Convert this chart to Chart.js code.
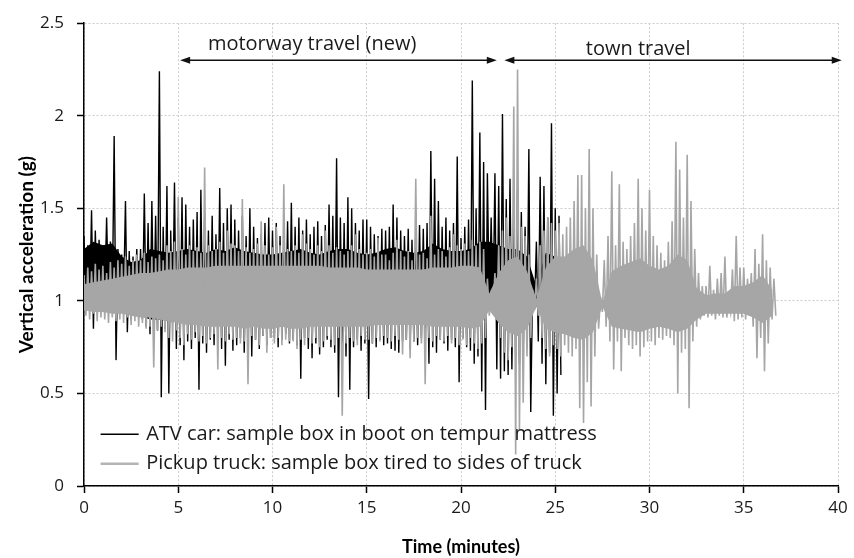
<!DOCTYPE html>
<html>
<head>
<meta charset="utf-8">
<title>Vertical acceleration</title>
<script src="https://cdn.jsdelivr.net/npm/chart.js@4.4.1/dist/chart.umd.min.js"></script>
<style>
  html, body { margin: 0; padding: 0; background: #fff; }
  #wrap { width: 854px; height: 558px; }
</style>
</head>
<body>
<div id="wrap"><canvas id="accelChart" width="854" height="558"></canvas></div>
<script>
// each recording is kept as the max / min reading of every 0.2 minute window
const windowMinutes = 0.2;
// plus the edges of the solid middle band, every 0.5 minute
const bandMinutes = 0.5;

// ATV car, sample box in boot on tempur mattress (g)
const atvHigh = [
  1.35, 1.30, 1.49, 1.38, 1.33,  1.30, 1.45, 1.32, 1.89, 1.28,
  1.25, 1.54, 1.27, 1.24, 1.28,  1.28, 1.58, 1.42, 1.54, 1.46,
  2.24, 1.40, 1.62, 1.38, 1.64,  1.45, 1.56, 1.52, 1.40, 1.44,
  1.48, 1.60, 1.45, 1.38, 1.46,  1.36, 1.61, 1.42, 1.50, 1.52,
  1.44, 1.38, 1.46, 1.35, 1.50,  1.40, 1.34, 1.36, 1.42, 1.45,
  1.38, 1.42, 1.35, 1.33, 1.43,  1.53, 1.40, 1.45, 1.38, 1.44,
  1.36, 1.40, 1.43, 1.35, 1.41,  1.52, 1.46, 1.77, 1.45, 1.42,
  1.56, 1.50, 1.42, 1.38, 1.44,  1.44, 1.40, 1.36, 1.35, 1.39,
  1.38, 1.40, 1.52, 1.45, 1.38,  1.35, 1.39, 1.33, 1.37, 1.41,
  1.39, 1.42, 1.81, 1.66, 1.54,  1.40, 1.45, 1.38, 1.42, 1.78,
  1.34, 1.40, 1.44, 2.19, 1.50,  1.91, 1.75, 1.69, 1.45, 1.69,
  1.62, 2.01, 1.55, 1.66, 1.48,  1.60, 1.48, 1.40, 1.82, 1.10,
  1.32, 1.67, 1.62, 1.45, 1.96,  1.50, 1.46
];
const atvLow = [
  1.00, 0.95, 0.85, 0.98, 1.02,  1.02, 1.00, 0.96, 0.68, 1.03,
  1.00, 0.83, 0.90, 0.98, 0.95,  0.90, 0.86, 0.82, 0.88, 0.84,
  0.48, 0.85, 0.50, 0.88, 0.74,  0.76, 0.68, 0.78, 0.74, 0.80,
  0.52, 0.77, 0.72, 0.79, 0.76,  0.78, 0.74, 0.65, 0.79, 0.73,
  0.76, 0.80, 0.72, 0.78, 0.70,  0.79, 0.74, 0.81, 0.76, 0.80,
  0.80, 0.75, 0.79, 0.82, 0.77,  0.79, 0.76, 0.58, 0.80, 0.74,
  0.69, 0.77, 0.71, 0.75, 0.79,  0.75, 0.72, 0.48, 0.77, 0.70,
  0.52, 0.75, 0.79, 0.73, 0.77,  0.47, 0.77, 0.75, 0.79, 0.76,
  0.77, 0.74, 0.73, 0.72, 0.78,  0.79, 0.74, 0.78, 0.76, 0.80,
  0.77, 0.66, 0.75, 0.72, 0.79,  0.77, 0.73, 0.79, 0.75, 0.56,
  0.80, 0.75, 0.73, 0.66, 0.70,  0.51, 0.41, 0.96, 0.94, 0.63,
  0.58, 0.62, 0.60, 0.63, 0.70,  0.66, 0.72, 0.75, 0.40, 0.96,
  0.78, 0.66, 0.55, 0.72, 0.38,  0.50, 0.60
];
const atvBandTop = [
  1.28, 1.32, 1.30, 1.31, 1.24, 1.21, 1.22, 1.28, 1.27, 1.26,
  1.27, 1.28, 1.27, 1.26, 1.28, 1.27, 1.29, 1.27, 1.26, 1.25,
  1.25, 1.26, 1.27, 1.28, 1.26, 1.25, 1.27, 1.28, 1.28, 1.26,
  1.25, 1.26, 1.28, 1.29, 1.27, 1.26, 1.27, 1.31, 1.28, 1.27,
  1.27, 1.28, 1.32, 1.32, 1.30, 1.28, 1.28, 1.24, 1.08, 1.26,
  1.24, 1.18
];
const atvBandBottom = [
  1.02, 1.03, 1.04, 1.03, 0.98, 0.94, 0.92, 0.90, 0.90, 0.89,
  0.89, 0.89, 0.89, 0.89, 0.89, 0.89, 0.89, 0.89, 0.89, 0.89,
  0.89, 0.89, 0.89, 0.89, 0.89, 0.89, 0.89, 0.89, 0.89, 0.89,
  0.89, 0.89, 0.89, 0.89, 0.89, 0.89, 0.89, 0.89, 0.89, 0.89,
  0.89, 0.89, 0.88, 0.97, 0.88, 0.86, 0.86, 0.88, 0.97, 0.88,
  0.88, 0.88
];

// Pickup truck, sample box tied to sides of truck (g)
const truckHigh = [
  1.14, 1.18, 1.16, 1.20, 1.17,  1.19, 1.15, 1.21, 1.18, 1.22,
  1.20, 1.24, 1.19, 1.22, 1.25,  1.22, 1.26, 1.21, 1.24, 1.23,
  1.25, 1.22, 1.30, 1.27, 1.32,  1.56, 1.28, 1.25, 1.30, 1.27,
  1.29, 1.26, 1.72, 1.30, 1.27,  1.28, 1.32, 1.26, 1.38, 1.31,
  1.30, 1.27, 1.55, 1.29, 1.26,  1.28, 1.31, 1.43, 1.30, 1.25,
  1.29, 1.40, 1.30, 1.63, 1.28,  1.27, 1.30, 1.26, 1.36, 1.31,
  1.28, 1.25, 1.30, 1.27, 1.38,  1.30, 1.26, 1.29, 1.27, 1.25,
  1.27, 1.30, 1.36, 1.28, 1.25,  1.26, 1.28, 1.24, 1.34, 1.25,
  1.25, 1.22, 1.26, 1.33, 1.27,  1.24, 1.27, 1.22, 1.66, 1.25,
  1.26, 1.23, 1.46, 1.25, 1.28,  1.27, 1.24, 1.29, 1.36, 1.30,
  1.28, 1.31, 1.27, 1.33, 1.30,  1.32, 1.28, 1.12, 1.03, 1.15,
  1.30, 1.38, 1.45, 1.35, 2.05,  2.25, 1.40, 1.35, 1.25, 1.06,
  1.12, 1.30, 1.38, 1.45, 1.42,  1.38, 1.42, 1.36, 1.40, 1.45,
  1.54, 1.68, 1.68, 1.50, 1.82,  1.50, 1.25, 1.02, 1.22, 1.35,
  1.70, 1.30, 1.63, 1.32, 1.28,  1.35, 1.42, 1.66, 1.50, 1.38,
  1.60, 1.35, 1.30, 1.26, 1.22,  1.32, 1.43, 1.86, 1.71, 1.45,
  1.79, 1.54, 1.28, 1.15, 1.08,  1.08, 1.19, 1.06, 1.12, 1.15,
  1.24, 1.00, 1.17, 1.35, 1.18,  1.18, 1.12, 1.15, 1.28, 1.20,
  1.36, 1.22, 1.18, 1.12
];
const truckLow = [
  0.92, 0.90, 0.93, 0.89, 0.91,  0.90, 0.88, 0.91, 0.89, 0.90,
  0.88, 0.91, 0.87, 0.89, 0.86,  0.88, 0.85, 0.86, 0.64, 0.84,
  0.86, 0.83, 0.80, 0.78, 0.84,  0.80, 0.76, 0.82, 0.79, 0.83,
  0.78, 0.81, 0.77, 0.80, 0.82,  0.63, 0.80, 0.78, 0.82, 0.79,
  0.80, 0.77, 0.78, 0.55, 0.81,  0.79, 0.76, 0.81, 0.72, 0.80,
  0.77, 0.80, 0.76, 0.79, 0.78,  0.78, 0.74, 0.79, 0.76, 0.80,
  0.77, 0.80, 0.75, 0.78, 0.81,  0.79, 0.76, 0.80, 0.38, 0.77,
  0.80, 0.78, 0.76, 0.81, 0.79,  0.79, 0.77, 0.80, 0.78, 0.81,
  0.80, 0.78, 0.81, 0.79, 0.71,  0.79, 0.69, 0.78, 0.80, 0.77,
  0.55, 0.80, 0.78, 0.81, 0.79,  0.78, 0.81, 0.77, 0.80, 0.76,
  0.79, 0.76, 0.80, 0.77, 0.74,  0.77, 0.80, 0.92, 0.95, 0.90,
  0.80, 0.72, 0.68, 0.75, 0.17,  0.30, 0.45, 0.70, 0.80, 0.95,
  0.92, 0.80, 0.74, 0.70, 0.76,  0.74, 0.70, 0.76, 0.72, 0.70,
  0.74, 0.42, 0.34, 0.56, 0.43,  0.70, 0.85, 0.94, 0.86, 0.78,
  0.63, 0.78, 0.62, 0.80, 0.76,  0.74, 0.76, 0.70, 0.75, 0.78,
  0.78, 0.76, 0.80, 0.79, 0.81,  0.80, 0.76, 0.50, 0.72, 0.74,
  0.42, 0.78, 0.86, 0.90, 0.92,  0.91, 0.92, 0.90, 0.92, 0.91,
  0.91, 0.94, 0.89, 0.90, 0.91,  0.90, 0.92, 0.86, 0.69, 0.80,
  0.62, 0.77, 0.90, 0.92
];
const truckBandTop = [
  1.09, 1.10, 1.11, 1.12, 1.13, 1.14, 1.15, 1.15, 1.16, 1.17,
  1.17, 1.18, 1.18, 1.18, 1.19, 1.19, 1.19, 1.19, 1.19, 1.19,
  1.19, 1.19, 1.19, 1.19, 1.19, 1.19, 1.18, 1.18, 1.18, 1.18,
  1.17, 1.17, 1.17, 1.17, 1.17, 1.17, 1.17, 1.18, 1.18, 1.18,
  1.19, 1.19, 1.18, 1.04, 1.15, 1.22, 1.24, 1.16, 1.01, 1.18,
  1.24, 1.24, 1.28, 1.30, 1.22, 0.99, 1.16, 1.19, 1.21, 1.23,
  1.19, 1.17, 1.19, 1.25, 1.22, 1.07, 1.03, 1.04, 1.04, 1.08,
  1.08, 1.10, 1.14, 1.06
];
const truckBandBottom = [
  0.95, 0.94, 0.94, 0.93, 0.93, 0.92, 0.91, 0.91, 0.90, 0.89,
  0.88, 0.87, 0.87, 0.86, 0.86, 0.86, 0.86, 0.85, 0.86, 0.85,
  0.85, 0.86, 0.85, 0.85, 0.86, 0.86, 0.86, 0.86, 0.86, 0.86,
  0.86, 0.87, 0.87, 0.87, 0.87, 0.87, 0.87, 0.86, 0.86, 0.86,
  0.86, 0.85, 0.86, 0.95, 0.88, 0.83, 0.81, 0.85, 0.97, 0.85,
  0.83, 0.82, 0.80, 0.79, 0.83, 0.97, 0.86, 0.85, 0.84, 0.83,
  0.85, 0.86, 0.85, 0.83, 0.85, 0.90, 0.93, 0.93, 0.93, 0.93,
  0.93, 0.91, 0.88, 0.92
];

const xTicks = [0, 5, 10, 15, 20, 25, 30, 35, 40];
const yTicks = [0, 0.5, 1, 1.5, 2, 2.5];
const seriesNames = [
  'ATV car: sample box in boot on tempur mattress',
  'Pickup truck: sample box tired to sides of truck'
];
// journey sections marked above the traces (minutes)
const sectionNames = ['motorway travel (new)', 'town travel'];
const sectionStart = [5.1, 22.3];
const sectionEnd = [21.9, 40.2];

const TEXT_FONT = '"Open Sans", sans-serif';
const TITLE_FONT = 'Lato, "Open Sans", sans-serif';
Chart.defaults.font.family = TEXT_FONT;

function envelope(high, low) {
  const pts = [];
  high.forEach((h, i) => {
    const t = i * windowMinutes;
    pts.push({ x: t, y: h });
    pts.push({ x: t + windowMinutes / 2, y: low[i] });
  });
  return pts;
}

function band(values) {
  return values.map((v, i) => ({ x: i * bandMinutes, y: v }));
}

function arrowHead(ctx, x, y, dir) {
  ctx.beginPath();
  ctx.moveTo(x, y);
  ctx.lineTo(x - dir * 10, y - 3.5);
  ctx.lineTo(x - dir * 10, y + 3.5);
  ctx.closePath();
  ctx.fill();
}

// section arrows + legend inside the plot
const overlay = {
  id: 'overlay',
  afterDraw(chart) {
    const ctx = chart.ctx;
    const xs = chart.scales.x, ys = chart.scales.y;
    ctx.save();
    ctx.strokeStyle = '#111';
    ctx.fillStyle = '#111';
    ctx.lineWidth = 1.5;
    const ay = ys.getPixelForValue(2.30);
    for (let i = 0; i < sectionNames.length; i++) {
      const x1 = xs.getPixelForValue(sectionStart[i]);
      const x2 = xs.getPixelForValue(sectionEnd[i]);
      ctx.beginPath();
      ctx.moveTo(x1 + 4, ay);
      ctx.lineTo(x2 - 4, ay);
      ctx.stroke();
      arrowHead(ctx, x1, ay, -1);
      arrowHead(ctx, x2, ay, 1);
    }
    ctx.font = '20px ' + TEXT_FONT;
    ctx.fillStyle = '#1a1a1a';
    ctx.textAlign = 'center';
    ctx.textBaseline = 'middle';
    ctx.fillText(sectionNames[0], xs.getPixelForValue(12.1), ys.getPixelForValue(2.385));
    ctx.fillText(sectionNames[1], xs.getPixelForValue(29.4), ys.getPixelForValue(2.36));

    // legend
    const colors = ['#000', '#b4b4b4'];
    const widths = [1.5, 2.5];
    const rows = [0.28, 0.12];
    ctx.textAlign = 'left';
    for (let i = 0; i < seriesNames.length; i++) {
      const y = ys.getPixelForValue(rows[i]);
      ctx.strokeStyle = colors[i];
      ctx.lineWidth = widths[i];
      ctx.beginPath();
      ctx.moveTo(xs.getPixelForValue(0.88), y);
      ctx.lineTo(xs.getPixelForValue(2.9), y);
      ctx.stroke();
      ctx.fillStyle = '#1a1a1a';
      ctx.fillText(seriesNames[i], xs.getPixelForValue(3.3), y);
    }
    ctx.restore();
  }
};

const traceStyle = { pointRadius: 0, tension: 0 };
const ctx = document.getElementById('accelChart').getContext('2d');
new Chart(ctx, {
  type: 'line',
  data: {
    datasets: [
      { ...traceStyle, label: seriesNames[0], data: envelope(atvHigh, atvLow),
        borderColor: '#000', borderWidth: 1.4, order: 3 },
      { ...traceStyle, data: band(atvBandTop), borderWidth: 0, borderColor: '#000',
        backgroundColor: '#000', fill: '+1', order: 4 },
      { ...traceStyle, data: band(atvBandBottom), borderWidth: 0, borderColor: '#000', order: 4 },
      { ...traceStyle, label: seriesNames[1], data: envelope(truckHigh, truckLow),
        borderColor: '#a6a6a6', borderWidth: 1.6, order: 1 },
      { ...traceStyle, data: band(truckBandTop), borderWidth: 0, borderColor: '#a6a6a6',
        backgroundColor: '#a6a6a6', fill: '+1', order: 2 },
      { ...traceStyle, data: band(truckBandBottom), borderWidth: 0, borderColor: '#a6a6a6', order: 2 }
    ]
  },
  options: {
    responsive: false,
    devicePixelRatio: 1,
    animation: false,
    events: [],
    layout: { padding: { top: 16, right: 16, left: 0, bottom: 0 } },
    plugins: {
      legend: { display: false },
      tooltip: { enabled: false }
    },
    scales: {
      x: {
        type: 'linear',
        min: 0,
        max: 40,
        afterBuildTicks: s => { s.ticks = xTicks.map(v => ({ value: v })); },
        afterFit: s => { s.height = 72; },
        ticks: { color: '#1a1a1a', font: { size: 17 }, padding: 5, maxRotation: 0 },
        grid: { color: '#cccccc', lineWidth: 1, tickColor: '#000', tickLength: 7, tickWidth: 1.5, tickBorderDash: [] },
        border: { color: '#000', width: 1.5, dash: [2, 2] },
        title: { display: true, text: 'Time (minutes)', color: '#000',
          font: { family: TITLE_FONT, size: 18, weight: 'bold' }, padding: { top: 3, bottom: 0 } }
      },
      y: {
        min: 0,
        max: 2.5,
        afterBuildTicks: s => { s.ticks = yTicks.map(v => ({ value: v })); },
        afterFit: s => { s.width = 84; },
        ticks: { color: '#1a1a1a', font: { size: 17 }, padding: 13, callback: v => String(v) },
        grid: { color: '#cccccc', lineWidth: 1, tickColor: '#000', tickLength: 7, tickWidth: 1.5, tickBorderDash: [] },
        border: { color: '#000', width: 1.5, dash: [2, 2] },
        title: { display: true, text: 'Vertical acceleration (g)', color: '#000',
          font: { family: TITLE_FONT, size: 19, weight: 'bold' }, padding: { top: 15, bottom: 0 } }
      }
    }
  },
  plugins: [overlay]
});
</script>
</body>
</html>
